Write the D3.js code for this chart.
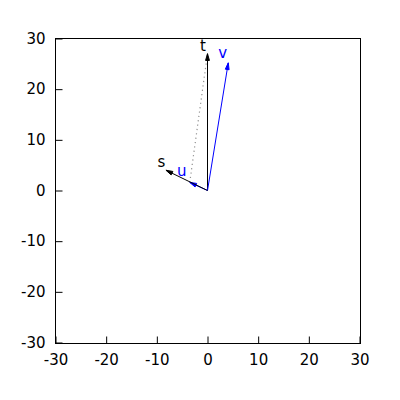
<!DOCTYPE html>
<html>
<head>
<meta charset="utf-8">
<script src="https://cdn.jsdelivr.net/npm/d3@7"></script>
<style>
  body { margin: 0; background: #fff; }
  text { font-family: "DejaVu Sans", sans-serif; font-size: 15px; }
</style>
</head>
<body>
<div class="chart"></div>
<script>
// vectors (all start at origin); u drawn before s so s sits on top
var names = ["t", "v", "u", "s"];
var vx = [0, 4.1, -3.5, -8.2];
var vy = [27, 25.2, 1.6, 4.0];
var colors = ["#000000", "#0000ff", "#0000ff", "#000000"];
// label anchors in data units
var labelX = [-0.9, 3.0, -5.1, -9.1];
var labelY = [27.5, 26.1, 2.8, 4.6];
var ticks = [-30, -20, -10, 0, 10, 20, 30];

var w = 400, h = 400;
var svg = d3.select(".chart").append("svg")
    .attr("width", w)
    .attr("height", h);

var x = d3.scaleLinear().domain([-30, 30]).range([55.5, 359.5]);
var y = d3.scaleLinear().domain([-30, 30]).range([342.5, 38.5]);

// border
svg.append("rect")
    .attr("x", x(-30)).attr("y", y(30))
    .attr("width", x(30) - x(-30) + 1).attr("height", y(-30) - y(30) + 1)
    .attr("fill", "none").attr("stroke", "#000").attr("stroke-width", 1);

// ticks, inward, only on bottom and left
var fmt = function (d) { return String(d); };
var xAxis = d3.axisBottom(x).tickValues(ticks).tickSize(-7).tickPadding(12).tickFormat(fmt);
var yAxis = d3.axisLeft(y).tickValues(ticks).tickSize(-7).tickPadding(10).tickFormat(fmt);

var gx = svg.append("g").attr("transform", "translate(0," + (y(-30) + 1) + ")").call(xAxis);
var gy = svg.append("g").attr("transform", "translate(" + x(-30) + ",0)").call(yAxis);
[gx, gy].forEach(function (g) {
    g.select(".domain").remove();
    g.selectAll("line").attr("stroke", "#000");
    g.selectAll("text").attr("fill", "#000").style("font-size", "15px")
        .style("font-family", "DejaVu Sans, sans-serif");
});
gx.selectAll("text").attr("dy", "0.71em").attr("y", 11);

// dotted line from tip of u to tip of t
svg.append("line")
    .attr("x1", x(vx[2])).attr("y1", y(vy[2]))
    .attr("x2", x(vx[0])).attr("y2", y(vy[0]))
    .attr("stroke", "#909090")
    .attr("stroke-width", 1.2)
    .attr("stroke-dasharray", "1.2,3.2");

function arrowHead(x0, y0, x1, y1) {
    var ang = Math.atan2(y1 - y0, x1 - x0);
    var len = 7, spread = 0.28;
    var ax = x1 - len * Math.cos(ang - spread), ay = y1 - len * Math.sin(ang - spread);
    var bx = x1 - len * Math.cos(ang + spread), by = y1 - len * Math.sin(ang + spread);
    return "M" + x1 + "," + y1 + "L" + ax + "," + ay + "L" + bx + "," + by + "Z";
}

var idx = d3.range(names.length);

var vec = svg.append("g").selectAll("g")
    .data(idx).enter().append("g");

vec.append("line")
    .attr("x1", x(0)).attr("y1", y(0))
    .attr("x2", function (i) { return x(vx[i]); })
    .attr("y2", function (i) { return y(vy[i]); })
    .attr("stroke", function (i) { return colors[i]; })
    .attr("stroke-width", 1);

vec.append("path")
    .attr("d", function (i) { return arrowHead(x(0), y(0), x(vx[i]), y(vy[i])); })
    .attr("fill", function (i) { return colors[i]; })
    .attr("stroke", function (i) { return colors[i]; })
    .attr("stroke-width", 1);

svg.append("g").selectAll("text")
    .data(idx).enter().append("text")
    .attr("x", function (i) { return x(labelX[i]); })
    .attr("y", function (i) { return y(labelY[i]); })
    .attr("text-anchor", "middle")
    .attr("fill", function (i) { return colors[i]; })
    .text(function (i) { return names[i]; });
</script>
</body>
</html>
